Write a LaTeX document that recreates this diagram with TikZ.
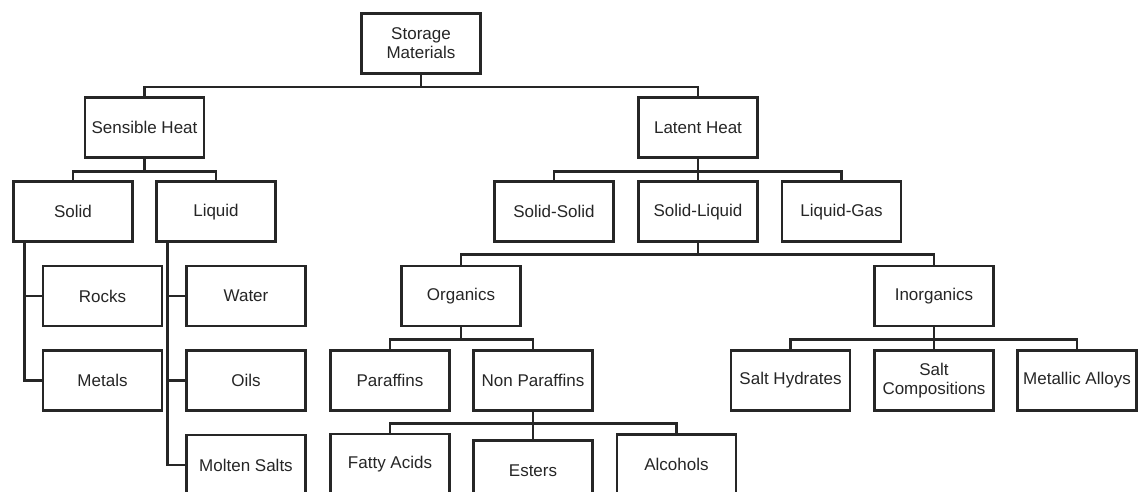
\documentclass[tikz,border=0pt]{standalone}
\usepackage{fontspec}
\setmainfont{Liberation Sans}
\begin{document}
\begin{tikzpicture}[x=1pt,y=-1pt,
  box/.style={draw=black!85, line width=2.9pt, minimum width=119pt, minimum height=60pt,
    inner sep=0pt, align=center, text=black!85, font=\fontsize{17}{19}\selectfont},
  conn/.style={draw=black!85, line width=2.9pt}]
\useasboundingbox (0,0) rectangle (1138,492);
\fill[white] (0,0) rectangle (1138,492);
\clip (0,0) rectangle (1138,492);
% nodes
\node[box] (st) at (421,43.3) {Storage\\Materials};
\node[box] (sh) at (144.5,127.7) {Sensible Heat};
\node[box] (lh) at (698,127.7) {Latent Heat};
\node[box] (solid) at (73,211.8) {Solid};
\node[box] (liquid) at (216,211.8) {Liquid};
\node[box] (ss) at (554,211.8) {Solid-Solid};
\node[box] (sl) at (698,211.8) {Solid-Liquid};
\node[box] (lg) at (841.5,211.8) {Liquid-Gas};
\node[box] (rocks) at (102.5,296) {Rocks};
\node[box] (metals) at (102.5,380.7) {Metals};
\node[box] (water) at (246,296) {Water};
\node[box] (oils) at (246,380.7) {Oils};
\node[box] (molten) at (246,465) {Molten Salts};
\node[box] (org) at (461,296) {Organics};
\node[box] (inorg) at (934,296) {Inorganics};
\node[box] (par) at (390,380.7) {Paraffins};
\node[box] (np) at (533,380.7) {Non Paraffins};
\node[box] (hyd) at (790.5,380.5) {Salt Hydrates};
\node[box] (sc) at (934,380.5) {Salt\\Compositions};
\node[box] (ma) at (1077,380.5) {Metallic Alloys};
\node[box] (fa) at (390,464) {Fatty Acids};
\node[box] (es) at (533,470.7) {Esters};
\node[box] (al) at (676.5,464.5) {Alcohols};
% connectors
\draw[conn] (st.south) -- ++(0,12.3) -| (sh.north);
\draw[conn] (st.south) -- ++(0,12.3) -| (lh.north);
\draw[conn] (sh.south) -- ++(0,12.2) -| (solid.north);
\draw[conn] (sh.south) -- ++(0,12.2) -| (liquid.north);
\draw[conn] (lh.south) -- ++(0,12.2) -| (ss.north);
\draw[conn] (lh.south) -- (sl.north);
\draw[conn] (lh.south) -- ++(0,12.2) -| (lg.north);
\draw[conn] ([xshift=12.5pt]solid.south west) |- (rocks.west);
\draw[conn] ([xshift=12.5pt]solid.south west) |- (metals.west);
\draw[conn] ([xshift=12.4pt]liquid.south west) |- (water.west);
\draw[conn] ([xshift=12.4pt]liquid.south west) |- (oils.west);
\draw[conn] ([xshift=12.4pt]liquid.south west) |- (molten.west);
\draw[conn] (sl.south) -- ++(0,11.5) -| (org.north);
\draw[conn] (sl.south) -- ++(0,11.5) -| (inorg.north);
\draw[conn] (org.south) -- ++(0,11.7) -| (par.north);
\draw[conn] (org.south) -- ++(0,11.7) -| (np.north);
\draw[conn] (inorg.south) -- ++(0,11.7) -| (hyd.north);
\draw[conn] (inorg.south) -- (sc.north);
\draw[conn] (inorg.south) -- ++(0,11.7) -| (ma.north);
\draw[conn] (np.south) -- ++(0,11.3) -| (fa.north);
\draw[conn] (np.south) -- (es.north);
\draw[conn] (np.south) -- ++(0,11.3) -| (al.north);
\end{tikzpicture}
\end{document}
